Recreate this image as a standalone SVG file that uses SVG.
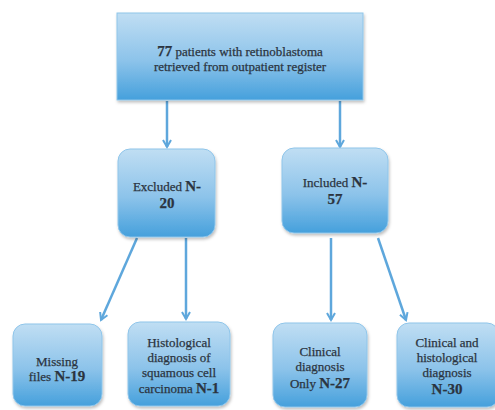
<svg xmlns="http://www.w3.org/2000/svg" width="495" height="410" viewBox="0 0 495 410">
<defs>
<linearGradient id="g" x1="0" y1="0" x2="0" y2="1">
<stop offset="0" stop-color="#c0def3"/>
<stop offset="0.55" stop-color="#8cc3ea"/>
<stop offset="1" stop-color="#45a0dc"/>
</linearGradient>
<filter id="sh" x="-10%" y="-10%" width="130%" height="130%">
<feDropShadow dx="1" dy="2" stdDeviation="1.5" flood-color="#000" flood-opacity="0.25"/>
</filter>
<marker id="ah" viewBox="0 0 10 10" refX="8" refY="5" markerWidth="4" markerHeight="4" orient="auto">
<path d="M1,1 L8,5 L1,9" fill="none" stroke="#5ea7dc" stroke-width="2"/>
</marker>
</defs>
<style>
.box{fill:url(#g);stroke:#8fc5ea;stroke-width:1;filter:url(#sh)}
text{font-family:"Liberation Serif","DejaVu Serif",serif;font-size:13px;fill:#2b3440;stroke:#2b3440;stroke-width:0.25;text-anchor:middle}
.b{font-size:15px;font-weight:bold}
.c{stroke:#5ea7dc;stroke-width:2.5;fill:none;marker-end:url(#ah)}
</style>
<rect width="495" height="410" fill="#fff"/>
<g id="connectors">
<line class="c" x1="167" y1="101" x2="167" y2="147"/>
<line class="c" x1="340" y1="101" x2="340" y2="147"/>
<line class="c" x1="137" y1="238" x2="101" y2="320"/>
<line class="c" x1="186" y1="238" x2="186" y2="319"/>
<line class="c" x1="331" y1="238" x2="331" y2="320"/>
<line class="c" x1="378" y1="238" x2="406" y2="320"/>
</g>
<g id="top">
<rect class="box" x="117" y="13" width="246" height="87"/>
<text x="240" y="56"><tspan class="b">77</tspan> patients with retinoblastoma</text>
<text x="240" y="71">retrieved from outpatient register</text>
</g>
<g id="excluded">
<rect class="box" x="118" y="149" width="97" height="88" rx="12"/>
<text x="167" y="191">Excluded <tspan class="b">N-</tspan></text>
<text x="167" y="208" class="b">20</text>
</g>
<g id="included">
<rect class="box" x="282" y="148" width="106" height="85" rx="12"/>
<text x="335" y="187">Included <tspan class="b">N-</tspan></text>
<text x="335" y="204" class="b">57</text>
</g>
<g id="missing">
<rect class="box" x="13" y="324" width="89" height="82" rx="12"/>
<text x="57" y="366">Missing</text>
<text x="57" y="381">files <tspan class="b">N-19</tspan></text>
</g>
<g id="histological">
<rect class="box" x="128" y="322" width="102" height="84" rx="12"/>
<text x="179" y="347">Histological</text>
<text x="179" y="362">diagnosis of</text>
<text x="179" y="377">squamous cell</text>
<text x="179" y="393">carcinoma  <tspan class="b">N-1</tspan></text>
</g>
<g id="clinical">
<rect class="box" x="273" y="323" width="94" height="84" rx="12"/>
<text x="320" y="356">Clinical</text>
<text x="320" y="371">diagnosis</text>
<text x="320" y="388">Only <tspan class="b">N-27</tspan></text>
</g>
<g id="clinhist">
<rect class="box" x="397" y="323" width="102" height="84" rx="12"/>
<text x="447" y="347">Clinical and</text>
<text x="447" y="362">histological</text>
<text x="447" y="377">diagnosis</text>
<text x="447" y="394" class="b">N-30</text>
</g>
</svg>
